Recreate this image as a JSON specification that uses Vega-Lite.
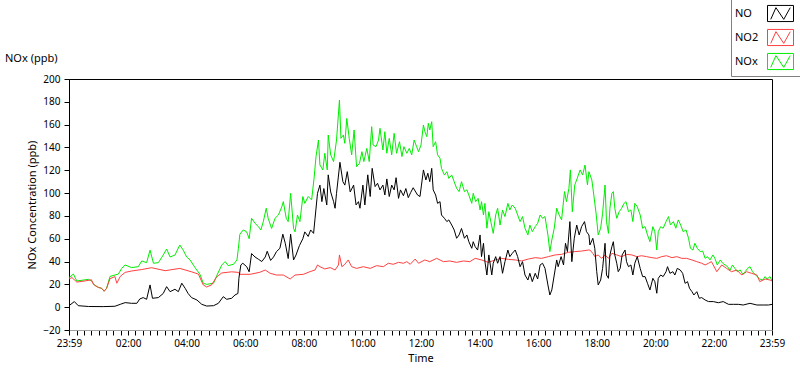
{
  "$schema": "https://vega.github.io/schema/vega-lite/v6.json",
  "width": 703,
  "height": 251,
  "autosize": {"type": "none"},
  "padding": {"left": 69, "top": 79, "right": 28, "bottom": 39},
  "background": "white",
  "config": {
    "font": "Noto Sans",
    "view": {"stroke": "#000000", "strokeWidth": 1},
    "axis": {"labelColor": "black", "titleColor": "black", "labelFont": "Noto Sans", "titleFont": "Noto Sans", "labelFontSize": 10, "titleFontSize": 11, "titleFontWeight": "normal", "grid": false, "tickColor": "black", "domainColor": "black"}
  },
  "title": {"text": "NOx (ppb)", "anchor": "start", "frame": "group", "dx": -64, "dy": 68, "offset": 0, "fontSize": 11, "fontWeight": "normal", "font": "Noto Sans", "color": "black"},
  "datasets": {
    "NO": [{"m":0,"v":1.3},{"m":11,"v":4.9},{"m":19,"v":1.3},{"m":40,"v":0.6},{"m":70,"v":0.5},{"m":94,"v":0.8},{"m":105,"v":2.5},{"m":115,"v":4},{"m":128,"v":3.4},{"m":139,"v":3.4},{"m":145,"v":7.2},{"m":152,"v":8.4},{"m":159,"v":6.9},{"m":166,"v":19.5},{"m":171,"v":7.8},{"m":183,"v":8.4},{"m":193,"v":12},{"m":200,"v":18},{"m":207,"v":13.6},{"m":217,"v":15.7},{"m":224,"v":13.6},{"m":231,"v":21},{"m":238,"v":16.5},{"m":244,"v":12},{"m":251,"v":8.4},{"m":262,"v":6.3},{"m":272,"v":2.5},{"m":282,"v":1},{"m":296,"v":1.3},{"m":306,"v":3.4},{"m":316,"v":9.2},{"m":323,"v":6.9},{"m":333,"v":7.8},{"m":340,"v":10.7},{"m":346,"v":12},{"m":348,"v":25.3},{"m":352,"v":37},{"m":356,"v":38.5},{"m":364,"v":35.5},{"m":369,"v":31},{"m":374,"v":47},{"m":381,"v":44},{"m":388,"v":42},{"m":395,"v":40},{"m":402,"v":44},{"m":406,"v":49},{"m":413,"v":41},{"m":419,"v":44},{"m":425,"v":48.7},{"m":432,"v":51.6},{"m":438,"v":64},{"m":443,"v":56},{"m":449,"v":42.6},{"m":454,"v":64},{"m":460,"v":41.4},{"m":465,"v":45.7},{"m":472,"v":54},{"m":479,"v":60},{"m":483,"v":66},{"m":490,"v":62},{"m":495,"v":67.7},{"m":501,"v":64.7},{"m":504,"v":77.9},{"m":509,"v":99.8},{"m":514,"v":107},{"m":518,"v":92.5},{"m":522,"v":104},{"m":528,"v":89.6},{"m":531,"v":116},{"m":536,"v":101},{"m":542,"v":92.5},{"m":545,"v":86.7},{"m":548,"v":99.8},{"m":555,"v":127},{"m":561,"v":110},{"m":565,"v":107},{"m":570,"v":118.8},{"m":576,"v":101},{"m":583,"v":107},{"m":588,"v":89.6},{"m":593,"v":92.5},{"m":596,"v":86.7},{"m":602,"v":107},{"m":606,"v":89.6},{"m":612,"v":116},{"m":617,"v":97},{"m":621,"v":121.7},{"m":627,"v":105.7},{"m":632,"v":108.6},{"m":637,"v":102.8},{"m":643,"v":107},{"m":647,"v":98.3},{"m":651,"v":112.4},{"m":656,"v":97},{"m":661,"v":107},{"m":666,"v":102.8},{"m":670,"v":113.5},{"m":675,"v":95.4},{"m":679,"v":102.8},{"m":685,"v":97.7},{"m":690,"v":104},{"m":695,"v":96},{"m":700,"v":100.6},{"m":705,"v":104.7},{"m":714,"v":98.3},{"m":719,"v":97},{"m":722,"v":107},{"m":726,"v":120.3},{"m":731,"v":111.5},{"m":735,"v":117.4},{"m":739,"v":110},{"m":743,"v":121.7},{"m":746,"v":102.8},{"m":751,"v":98.3},{"m":755,"v":91},{"m":760,"v":92.5},{"m":763,"v":80.8},{"m":769,"v":77.9},{"m":774,"v":75},{"m":778,"v":76.5},{"m":784,"v":72},{"m":789,"v":67.7},{"m":794,"v":60.4},{"m":799,"v":63.3},{"m":804,"v":69},{"m":810,"v":60.4},{"m":815,"v":63.3},{"m":819,"v":57.4},{"m":825,"v":51.6},{"m":828,"v":57.4},{"m":832,"v":53},{"m":837,"v":50.1},{"m":842,"v":63.3},{"m":845,"v":44.3},{"m":849,"v":56},{"m":852,"v":39.9},{"m":856,"v":28.2},{"m":860,"v":45.8},{"m":866,"v":28.2},{"m":869,"v":38.5},{"m":874,"v":44.3},{"m":878,"v":38.5},{"m":883,"v":44.3},{"m":888,"v":29.7},{"m":893,"v":39.9},{"m":899,"v":50.1},{"m":903,"v":44.3},{"m":908,"v":47.2},{"m":914,"v":50.1},{"m":919,"v":44.3},{"m":924,"v":35.5},{"m":929,"v":39.9},{"m":934,"v":28.2},{"m":940,"v":23.8},{"m":944,"v":29.7},{"m":949,"v":22.4},{"m":955,"v":29.7},{"m":960,"v":24.7},{"m":965,"v":37},{"m":970,"v":38.5},{"m":975,"v":34},{"m":981,"v":19.5},{"m":985,"v":10.7},{"m":989,"v":15.1},{"m":994,"v":28.2},{"m":999,"v":41.4},{"m":1002,"v":35.5},{"m":1008,"v":44.3},{"m":1013,"v":37},{"m":1017,"v":56},{"m":1021,"v":48.7},{"m":1026,"v":75},{"m":1030,"v":39.9},{"m":1035,"v":60.4},{"m":1040,"v":72},{"m":1045,"v":63.3},{"m":1050,"v":70.6},{"m":1056,"v":75},{"m":1060,"v":66.2},{"m":1065,"v":63.3},{"m":1067,"v":54.5},{"m":1073,"v":60.4},{"m":1077,"v":51.6},{"m":1081,"v":31.1},{"m":1084,"v":19.5},{"m":1089,"v":23.8},{"m":1093,"v":34},{"m":1098,"v":56},{"m":1101,"v":28.2},{"m":1105,"v":25.3},{"m":1108,"v":45.8},{"m":1112,"v":53},{"m":1115,"v":57.4},{"m":1118,"v":45.8},{"m":1122,"v":38.5},{"m":1125,"v":31.1},{"m":1129,"v":34},{"m":1133,"v":45.8},{"m":1139,"v":50.1},{"m":1142,"v":39.9},{"m":1146,"v":35.5},{"m":1151,"v":37},{"m":1155,"v":28.2},{"m":1159,"v":38.5},{"m":1164,"v":44.3},{"m":1170,"v":34},{"m":1175,"v":26.8},{"m":1180,"v":26.8},{"m":1185,"v":20.9},{"m":1190,"v":15.1},{"m":1196,"v":25.3},{"m":1200,"v":22.4},{"m":1204,"v":12.2},{"m":1207,"v":25.3},{"m":1212,"v":28.2},{"m":1217,"v":26.8},{"m":1223,"v":31.1},{"m":1226,"v":35.5},{"m":1231,"v":29.7},{"m":1237,"v":31.1},{"m":1241,"v":28.2},{"m":1246,"v":34},{"m":1252,"v":32.6},{"m":1257,"v":29.7},{"m":1262,"v":20.9},{"m":1267,"v":22.4},{"m":1271,"v":16.6},{"m":1276,"v":13.6},{"m":1280,"v":10.7},{"m":1286,"v":13.6},{"m":1291,"v":7.8},{"m":1296,"v":8.4},{"m":1303,"v":6.3},{"m":1310,"v":4.9},{"m":1320,"v":4.9},{"m":1330,"v":3.9},{"m":1340,"v":4.9},{"m":1351,"v":2.5},{"m":1361,"v":2.5},{"m":1371,"v":2.5},{"m":1381,"v":1.9},{"m":1395,"v":3.4},{"m":1409,"v":1.9},{"m":1422,"v":1.9},{"m":1433,"v":1.9},{"m":1440,"v":2.5}],
    "NO2": [{"m":0,"v":24.7},{"m":6,"v":26},{"m":16,"v":22},{"m":33,"v":23},{"m":46,"v":24},{"m":50,"v":20},{"m":60,"v":17.4},{"m":67,"v":16.5},{"m":72,"v":14},{"m":77,"v":16.5},{"m":84,"v":25},{"m":94,"v":26.8},{"m":98,"v":21},{"m":105,"v":27},{"m":115,"v":30.5},{"m":128,"v":31.7},{"m":149,"v":33},{"m":169,"v":34.6},{"m":197,"v":32},{"m":227,"v":34},{"m":251,"v":31},{"m":265,"v":29},{"m":275,"v":19.5},{"m":282,"v":17.7},{"m":292,"v":19.5},{"m":303,"v":26.8},{"m":313,"v":30},{"m":333,"v":31},{"m":347,"v":30.5},{"m":350,"v":28.8},{"m":371,"v":28.8},{"m":391,"v":30.6},{"m":402,"v":32.6},{"m":412,"v":29.7},{"m":425,"v":28.2},{"m":439,"v":28.2},{"m":453,"v":24.7},{"m":463,"v":28.2},{"m":480,"v":28.8},{"m":494,"v":31.2},{"m":504,"v":32.6},{"m":509,"v":37},{"m":514,"v":35.5},{"m":524,"v":33.5},{"m":535,"v":34.7},{"m":545,"v":32.6},{"m":552,"v":37},{"m":554,"v":45.8},{"m":559,"v":35.5},{"m":565,"v":37.6},{"m":572,"v":41.4},{"m":579,"v":35.5},{"m":589,"v":34},{"m":603,"v":35.5},{"m":617,"v":34},{"m":630,"v":36.4},{"m":644,"v":35.5},{"m":654,"v":38.5},{"m":664,"v":37.6},{"m":675,"v":39.3},{"m":685,"v":38.5},{"m":692,"v":39.9},{"m":699,"v":37.6},{"m":709,"v":42.2},{"m":716,"v":38.5},{"m":729,"v":41.4},{"m":739,"v":39.9},{"m":753,"v":42.8},{"m":767,"v":39.9},{"m":780,"v":40.5},{"m":794,"v":39.3},{"m":808,"v":40.5},{"m":821,"v":39.9},{"m":832,"v":42.8},{"m":845,"v":41.4},{"m":859,"v":39.3},{"m":873,"v":41.4},{"m":886,"v":42.8},{"m":900,"v":41.9},{"m":914,"v":41.4},{"m":927,"v":40.5},{"m":941,"v":42.2},{"m":955,"v":43.4},{"m":968,"v":42.8},{"m":982,"v":44.3},{"m":996,"v":45.8},{"m":1009,"v":46.3},{"m":1023,"v":48.1},{"m":1036,"v":48.7},{"m":1050,"v":49.2},{"m":1064,"v":50.1},{"m":1067,"v":50.1},{"m":1073,"v":47.2},{"m":1077,"v":44.3},{"m":1084,"v":45.8},{"m":1091,"v":42.8},{"m":1098,"v":45.8},{"m":1105,"v":42.8},{"m":1112,"v":47.2},{"m":1122,"v":45.8},{"m":1132,"v":44.3},{"m":1142,"v":46.3},{"m":1153,"v":45.8},{"m":1163,"v":44.3},{"m":1173,"v":45.1},{"m":1183,"v":44.3},{"m":1194,"v":43.4},{"m":1204,"v":42.8},{"m":1214,"v":44.3},{"m":1224,"v":45.1},{"m":1235,"v":43.4},{"m":1245,"v":44.3},{"m":1255,"v":42.8},{"m":1265,"v":42.8},{"m":1276,"v":41.4},{"m":1286,"v":39.9},{"m":1296,"v":38.5},{"m":1303,"v":37},{"m":1310,"v":38.5},{"m":1316,"v":39.9},{"m":1327,"v":31.1},{"m":1337,"v":37},{"m":1347,"v":34},{"m":1357,"v":31.1},{"m":1368,"v":32.6},{"m":1378,"v":28.2},{"m":1388,"v":31.1},{"m":1398,"v":29.7},{"m":1409,"v":28.2},{"m":1415,"v":22.4},{"m":1426,"v":24.7},{"m":1436,"v":23.8},{"m":1440,"v":23}],
    "NOx": [{"m":0,"v":26},{"m":9,"v":29},{"m":16,"v":23},{"m":40,"v":24.4},{"m":46,"v":23},{"m":53,"v":19},{"m":60,"v":17.4},{"m":67,"v":16.5},{"m":72,"v":14},{"m":77,"v":16.5},{"m":84,"v":27},{"m":101,"v":29},{"m":108,"v":34},{"m":115,"v":37},{"m":128,"v":34.7},{"m":142,"v":35.5},{"m":149,"v":40.5},{"m":159,"v":39},{"m":166,"v":50},{"m":173,"v":38.5},{"m":183,"v":39},{"m":193,"v":45.7},{"m":200,"v":51},{"m":207,"v":44},{"m":217,"v":45.7},{"m":227,"v":54.5},{"m":234,"v":50},{"m":241,"v":44},{"m":248,"v":41.4},{"m":258,"v":34.7},{"m":268,"v":29},{"m":275,"v":21},{"m":282,"v":20},{"m":296,"v":21},{"m":303,"v":28},{"m":313,"v":37},{"m":320,"v":40},{"m":326,"v":36.4},{"m":337,"v":37.6},{"m":344,"v":41.4},{"m":347,"v":51.6},{"m":350,"v":64},{"m":357,"v":67.7},{"m":364,"v":66},{"m":369,"v":60},{"m":374,"v":77.9},{"m":381,"v":73.5},{"m":388,"v":70.6},{"m":393,"v":67.7},{"m":398,"v":75},{"m":404,"v":86.7},{"m":408,"v":77.9},{"m":415,"v":69},{"m":422,"v":77.9},{"m":429,"v":80.8},{"m":436,"v":88.1},{"m":439,"v":92.5},{"m":445,"v":77.9},{"m":449,"v":75},{"m":454,"v":99.8},{"m":460,"v":69},{"m":463,"v":66},{"m":468,"v":80.8},{"m":473,"v":75},{"m":479,"v":97},{"m":483,"v":91},{"m":490,"v":97},{"m":497,"v":94},{"m":502,"v":113},{"m":506,"v":132},{"m":511,"v":146.5},{"m":514,"v":124.6},{"m":520,"v":120.3},{"m":524,"v":134.9},{"m":529,"v":120.3},{"m":531,"v":150.9},{"m":536,"v":133.5},{"m":542,"v":127.6},{"m":548,"v":146.5},{"m":554,"v":181.6},{"m":557,"v":148},{"m":562,"v":150.9},{"m":565,"v":143.6},{"m":569,"v":165.5},{"m":574,"v":148},{"m":579,"v":133.5},{"m":584,"v":155.3},{"m":589,"v":123.2},{"m":595,"v":126.1},{"m":600,"v":136.3},{"m":604,"v":127.6},{"m":610,"v":139.2},{"m":615,"v":127.6},{"m":620,"v":158.2},{"m":623,"v":142.1},{"m":629,"v":140.7},{"m":634,"v":146.5},{"m":637,"v":156.8},{"m":643,"v":137.8},{"m":647,"v":153.8},{"m":651,"v":134.9},{"m":656,"v":148},{"m":661,"v":133.5},{"m":666,"v":152.4},{"m":671,"v":134.9},{"m":677,"v":145},{"m":682,"v":132},{"m":686,"v":140.7},{"m":692,"v":134.9},{"m":697,"v":139.2},{"m":702,"v":133.5},{"m":707,"v":146.5},{"m":712,"v":140.7},{"m":716,"v":136.3},{"m":721,"v":142.1},{"m":726,"v":159.7},{"m":729,"v":153.8},{"m":733,"v":149.4},{"m":736,"v":161.2},{"m":739,"v":155.3},{"m":743,"v":162.6},{"m":746,"v":140.7},{"m":751,"v":145},{"m":755,"v":133.5},{"m":760,"v":130.5},{"m":763,"v":121.7},{"m":769,"v":115.8},{"m":774,"v":118.8},{"m":778,"v":112.9},{"m":784,"v":115.8},{"m":789,"v":110},{"m":794,"v":104.2},{"m":799,"v":101.3},{"m":804,"v":110},{"m":810,"v":101.3},{"m":815,"v":102.8},{"m":819,"v":98.3},{"m":825,"v":91},{"m":828,"v":99.8},{"m":833,"v":92.5},{"m":838,"v":95.4},{"m":842,"v":85.2},{"m":845,"v":92.5},{"m":849,"v":80.8},{"m":852,"v":91},{"m":856,"v":69.2},{"m":860,"v":83.7},{"m":864,"v":75},{"m":869,"v":64.7},{"m":874,"v":80.8},{"m":878,"v":86.7},{"m":883,"v":72},{"m":888,"v":85.2},{"m":893,"v":79.4},{"m":899,"v":91},{"m":903,"v":85.2},{"m":908,"v":89.6},{"m":914,"v":86.7},{"m":919,"v":80.8},{"m":924,"v":75},{"m":929,"v":79.4},{"m":934,"v":69.2},{"m":940,"v":63.3},{"m":944,"v":72},{"m":949,"v":66.2},{"m":955,"v":70.6},{"m":960,"v":73.5},{"m":965,"v":80.8},{"m":970,"v":77.9},{"m":975,"v":79.4},{"m":981,"v":63.3},{"m":985,"v":48.7},{"m":989,"v":58.9},{"m":994,"v":69.2},{"m":999,"v":86.7},{"m":1004,"v":80.8},{"m":1009,"v":76.5},{"m":1015,"v":101.3},{"m":1019,"v":92.5},{"m":1024,"v":104.2},{"m":1027,"v":120.3},{"m":1031,"v":83.7},{"m":1036,"v":107.1},{"m":1041,"v":112.9},{"m":1047,"v":120.3},{"m":1052,"v":115.8},{"m":1057,"v":124.6},{"m":1062,"v":107.1},{"m":1065,"v":118.8},{"m":1071,"v":111.5},{"m":1075,"v":98.3},{"m":1080,"v":80.8},{"m":1084,"v":63.3},{"m":1089,"v":69.2},{"m":1093,"v":82.3},{"m":1098,"v":107.1},{"m":1101,"v":75},{"m":1105,"v":64.7},{"m":1108,"v":86.7},{"m":1112,"v":99.8},{"m":1115,"v":101.3},{"m":1118,"v":86.7},{"m":1122,"v":77.9},{"m":1127,"v":83.7},{"m":1132,"v":86.7},{"m":1137,"v":91},{"m":1141,"v":92.5},{"m":1146,"v":83.7},{"m":1151,"v":85.2},{"m":1155,"v":75},{"m":1159,"v":91},{"m":1164,"v":88.1},{"m":1170,"v":80.8},{"m":1175,"v":69.2},{"m":1180,"v":70.6},{"m":1185,"v":63.3},{"m":1190,"v":57.4},{"m":1196,"v":70.6},{"m":1200,"v":66.2},{"m":1204,"v":50.1},{"m":1207,"v":66.2},{"m":1212,"v":70.6},{"m":1217,"v":69.2},{"m":1223,"v":75},{"m":1228,"v":79.4},{"m":1232,"v":72},{"m":1238,"v":75},{"m":1243,"v":69.2},{"m":1248,"v":76.5},{"m":1253,"v":72},{"m":1258,"v":66.2},{"m":1264,"v":67.7},{"m":1269,"v":60.4},{"m":1273,"v":51.6},{"m":1278,"v":50.1},{"m":1282,"v":56},{"m":1287,"v":51.6},{"m":1293,"v":48.7},{"m":1298,"v":49.2},{"m":1303,"v":42.8},{"m":1308,"v":44.3},{"m":1313,"v":41.4},{"m":1319,"v":45.8},{"m":1323,"v":42.8},{"m":1328,"v":37},{"m":1334,"v":41.4},{"m":1339,"v":38.5},{"m":1344,"v":37},{"m":1349,"v":35.5},{"m":1354,"v":32.3},{"m":1359,"v":37},{"m":1364,"v":34},{"m":1369,"v":31.1},{"m":1375,"v":32.6},{"m":1380,"v":28.8},{"m":1385,"v":31.1},{"m":1390,"v":34},{"m":1395,"v":35.5},{"m":1400,"v":31.1},{"m":1405,"v":28.8},{"m":1410,"v":26.8},{"m":1415,"v":24.7},{"m":1421,"v":23.8},{"m":1426,"v":26.8},{"m":1430,"v":24.7},{"m":1436,"v":26.8},{"m":1440,"v":23}],
    "labels": [{"k":"NO"},{"k":"NO2"},{"k":"NOx"}]
  },
  "encoding": {
    "x": {"field": "m", "type": "quantitative", "title": "Time",
      "scale": {"domain": [0, 1440], "nice": false, "zero": false},
      "axis": {
        "values": [0,16,31,46,61,76,91,106,121,136,151,166,181,196,211,226,241,256,271,286,301,316,331,346,361,376,391,406,421,436,451,466,481,496,511,526,541,556,571,586,601,616,631,646,661,676,691,706,721,736,751,766,781,796,811,826,841,856,871,886,901,916,931,946,961,976,991,1006,1021,1036,1051,1066,1081,1096,1111,1126,1141,1156,1171,1186,1201,1216,1231,1246,1261,1276,1291,1306,1321,1336,1351,1366,1381,1396,1411,1426,1440],
        "labelExpr": "(datum.value==0||datum.value==1440) ? '23:59' : ((datum.value-1)%120==0 ? pad(''+floor((datum.value-1)/60),2,'0','left')+':00' : '')",
        "tickSize": 5,
        "encode": {"ticks": {"update": {"y2": {"signal": "(datum.value==0||datum.value==1440||(datum.value-1)%120==0) ? 5 : 3"}}}},
        "labelPadding": 3, "titlePadding": 4, "labelFlush": false, "labelOverlap": false,
        "domainColor": "#a0a0a0"
      }
    },
    "y": {"field": "v", "type": "quantitative", "title": "NOx Concentration (ppb)",
      "scale": {"domain": [-20, 200], "nice": false, "zero": false},
      "axis": {"values": [-20,0,20,40,60,80,100,120,140,160,180,200], "tickSize": 5, "labelPadding": 4, "titlePadding": 5, "labelOverlap": false, "labelFlush": false}
    }
  },
  "layer": [
    {
      "data": {"name": "NOx"},
      "mark": {"type": "line", "strokeWidth": 1, "clip": true},
      "encoding": {
        "color": {"datum": "NOx", "type": "nominal",
          "scale": {"domain": ["NO", "NO2", "NOx"], "range": ["#000000", "#ff4040", "#00ee00"]},
          "legend": {"orient": "none", "legendX": 662, "legendY": -83, "title": null,
            "symbolType": "M-1,-0.62H1V0.62H-1ZM-0.75,0.45L-0.35,-0.45L0.25,0.45L0.75,-0.45",
            "symbolSize": 676, "symbolStrokeWidth": 1, "symbolFillColor": "transparent",
            "labelFontSize": 11, "labelColor": "black", "labelFont": "Noto Sans", "labelBaseline": "middle",
            "labelOffset": -59, "symbolOffset": 32, "rowPadding": 0, "padding": 4,
            "strokeColor": "#808080", "fillColor": "white"}
        }
      }
    },
    {
      "data": {"name": "NO2"},
      "mark": {"type": "line", "strokeWidth": 1, "clip": true},
      "encoding": {"color": {"datum": "NO2", "type": "nominal"}}
    },
    {
      "data": {"name": "NO"},
      "mark": {"type": "line", "strokeWidth": 1, "clip": true},
      "encoding": {"color": {"datum": "NO", "type": "nominal"}}
    },
    {
      "data": {"name": "labels"},
      "mark": {"type": "point", "opacity": 0, "filled": false, "color": "black"},
      "encoding": {
        "shape": {"field": "k", "type": "nominal",
          "scale": {"range": ["M-1,-0.62H1V0.62H-1Z", "M-1,-0.62H1V0.62H-1Z", "M-1,-0.62H1V0.62H-1Z"]},
          "legend": {"orient": "none", "legendX": 662, "legendY": -83, "title": null,
            "symbolSize": 676, "symbolStrokeWidth": 1, "symbolFillColor": "transparent", "symbolStrokeColor": "black", "symbolOpacity": 1,
            "labelFontSize": 11, "labelColor": "black", "labelOpacity": 0, "labelFont": "Noto Sans", "labelBaseline": "middle",
            "labelOffset": -59, "symbolOffset": 32, "rowPadding": 0, "padding": 4}
        }
      }
    }
  ]
}
